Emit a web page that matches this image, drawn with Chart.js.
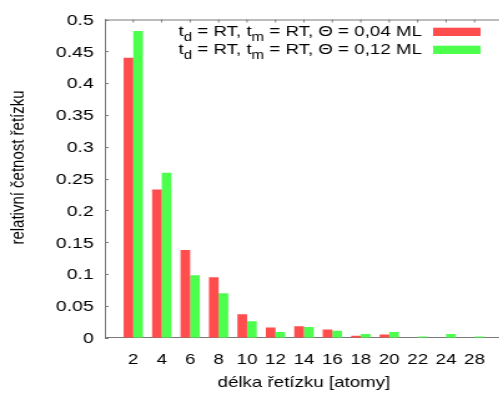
<!DOCTYPE html>
<html><head><meta charset="utf-8">
<script src="https://cdn.jsdelivr.net/npm/chart.js@4"></script>
<style>
html,body{margin:0;padding:0;overflow:hidden;background:#fff;width:499px;height:396px}
</style></head>
<body><canvas id="c" width="403" height="396" style="display:block;width:502.74px;height:396px"></canvas>
<script>
const categories = ['2','4','6','8','10','12','14','16','18','20','22','24','28'];
const seriesLow  = [0.440,0.233,0.138,0.095,0.037,0.016,0.018,0.013,0.003,0.005,0,0,0];
const seriesHigh = [0.482,0.259,0.098,0.070,0.026,0.009,0.017,0.011,0.006,0.009,0.002,0.006,0.002];
const seriesLabels = ['t_d = RT, t_m = RT, Θ = 0,04 ML','t_d = RT, t_m = RT, Θ = 0,12 ML'];
const seriesColors = ['rgb(255,77,77)','rgb(77,255,77)'];
const yTicks = [0,0.05,0.1,0.15,0.2,0.25,0.3,0.35,0.4,0.45,0.5];
const xTitle = 'délka řetízku [atomy]';
const yTitle = 'relativní četnost řetízku';

const FAMILY = '"Liberation Sans", Arial, Helvetica, sans-serif';
const AXIS = '#7a7a7a';

function drawRich(ctx, text, xRight, baseline, size) {
  const parts = [];
  for (let i = 0; i < text.length; i++) {
    if (text[i] === '_' && i + 1 < text.length) { parts.push({t: text[i+1], sub: true}); i++; }
    else {
      if (parts.length && !parts[parts.length-1].sub) parts[parts.length-1].t += text[i];
      else parts.push({t: text[i], sub: false});
    }
  }
  const subSize = size * 0.8;
  let total = 0;
  parts.forEach(p => { ctx.font = (p.sub ? subSize : size) + 'px ' + FAMILY; p.w = ctx.measureText(p.t).width; total += p.w; });
  let x = xRight - total;
  ctx.textAlign = 'left';
  ctx.textBaseline = 'alphabetic';
  parts.forEach(p => {
    ctx.font = (p.sub ? subSize : size) + 'px ' + FAMILY;
    ctx.fillText(p.t, x, baseline + (p.sub ? 5 : 0));
    x += p.w;
  });
}

const framePlugin = {
  id: 'frame',
  afterDraw(chart) {
    const ctx = chart.ctx;
    const a = chart.chartArea;
    const xs = chart.scales.x, ys = chart.scales.y;
    ctx.save();
    ctx.strokeStyle = AXIS;
    ctx.lineWidth = 1;
    ctx.beginPath();
    ctx.moveTo(a.left, a.top + 0.5); ctx.lineTo(chart.width, a.top + 0.5);
    yTicks.forEach(v => {
      const y = Math.round(ys.getPixelForValue(v)) + 0.5;
      ctx.moveTo(a.left, y); ctx.lineTo(a.left + 3, y);
    });
    categories.forEach((c, i) => {
      const x = xs.getPixelForValue(i + 1);
      ctx.moveTo(x, a.top); ctx.lineTo(x, a.top + 3);
    });
    ctx.stroke();

    const baselines = [36, 54];
    seriesLabels.forEach((lab, i) => {
      ctx.fillStyle = '#000';
      drawRich(ctx, lab, 338, baselines[i], 15);
      ctx.fillStyle = seriesColors[i];
      ctx.fillRect(347, baselines[i] - 8.3, 38, 8.3);
    });

    ctx.fillStyle = '#000';
    ctx.font = '15px ' + FAMILY;
    ctx.translate(14.4, 167.5);
    ctx.rotate(-Math.PI / 2);
    ctx.textAlign = 'center';
    ctx.textBaseline = 'middle';
    ctx.fillText(yTitle, 0, 0);
    ctx.restore();
  }
};

new Chart(document.getElementById('c'), {
  type: 'bar',
  data: {
    datasets: [
      { label: seriesLabels[0], data: seriesLow.map((v, i) => ({x: i + 1, y: v})),
        backgroundColor: seriesColors[0], borderWidth: 0, categoryPercentage: 0.68, barPercentage: 1 },
      { label: seriesLabels[1], data: seriesHigh.map((v, i) => ({x: i + 1, y: v})),
        backgroundColor: seriesColors[1], borderWidth: 0, categoryPercentage: 0.68, barPercentage: 1 }
    ]
  },
  options: {
    responsive: false,
    animation: false,
    layout: { padding: { top: 19.5, left: 0, right: 0, bottom: 0 } },
    plugins: { legend: { display: false }, tooltip: { enabled: false } },
    scales: {
      x: {
        type: 'linear', min: 0, max: 14, offset: false,
        grid: { display: false, drawTicks: false, offset: false },
        border: { display: true, color: AXIS, width: 1 },
        afterBuildTicks: s => { s.ticks = categories.map((c, i) => ({ value: i + 1 })); },
        ticks: { autoSkip: false, maxRotation: 0, padding: 13, color: '#000',
                 font: { family: FAMILY, size: 15 },
                 callback: (v, i) => categories[i] },
        title: { display: true, text: xTitle, color: '#000', font: { family: FAMILY, size: 15 },
                 padding: { top: 0, bottom: 4 } },
        afterFit: s => { s.height = 58.3; }
      },
      y: {
        min: 0, max: 0.5,
        grid: { display: false, drawTicks: false },
        border: { display: true, color: AXIS, width: 1 },
        afterBuildTicks: s => { s.ticks = yTicks.map(v => ({ value: v })); },
        ticks: { padding: 9, labelOffset: 1, color: '#000', font: { family: FAMILY, size: 15.5 },
                 callback: v => String(+Number(v).toFixed(2)) },
        afterFit: s => { s.width = 84; }
      }
    }
  },
  plugins: [framePlugin]
});
</script>
</body></html>
